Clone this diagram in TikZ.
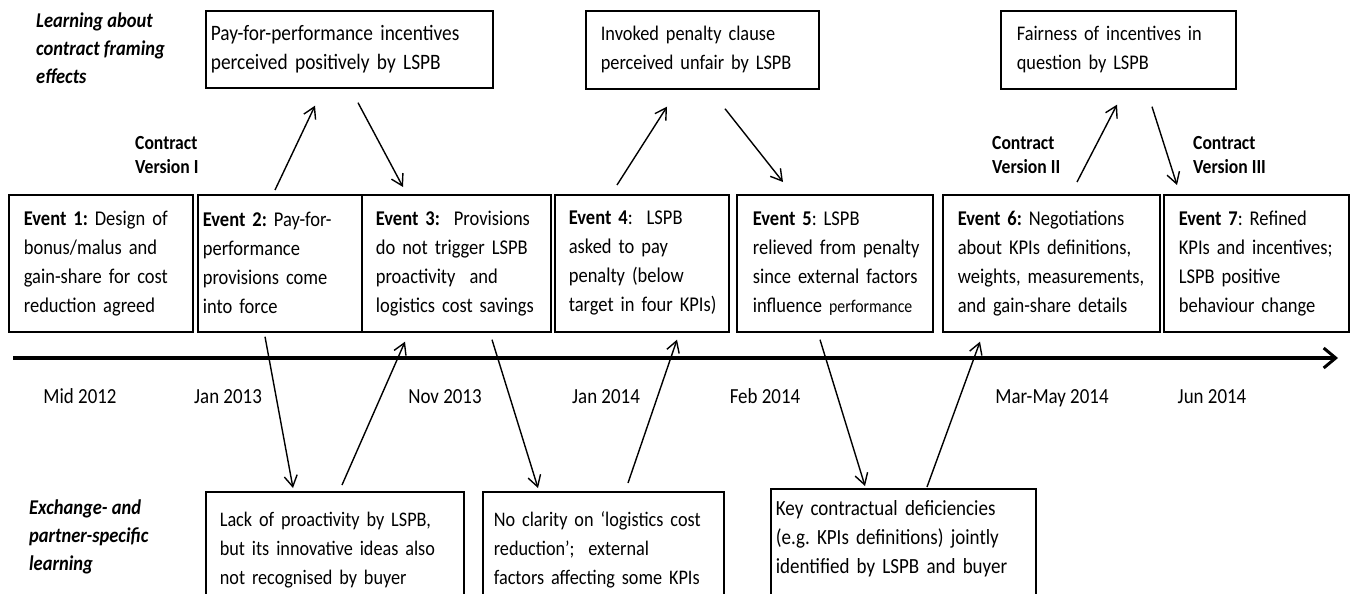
\documentclass[tikz,border=0pt]{standalone}
\usepackage{fontspec}
\setmainfont{Carlito}[FakeStretch=0.88]
\usetikzlibrary{arrows.meta}
\newcommand\oneln[1]{\mbox{#1}}
\tikzset{
  box/.style={draw, line width=1.7pt, anchor=north west, align=left,
    inner ysep=0pt, font=\fontsize{21}{29}\selectfont\frenchspacing},
  fs/.style={font=\fontsize{#1}{29}\selectfont\frenchspacing},
  arr/.style={line width=1.4pt, -{Straight Barb[length=11pt,width=13pt,line width=1.4pt]}},
  lbl/.style={anchor=north west, align=left, inner sep=0pt,
    font=\fontsize{21}{28}\selectfont\bfseries\itshape},
  ctr/.style={anchor=north west, align=left, inner sep=0pt,
    font=\fontsize{20}{24}\selectfont\bfseries},
  dt/.style={anchor=base, inner sep=0pt, font=\fontsize{21.5}{26}\selectfont},
}
\begin{document}
\begin{tikzpicture}[x=1pt,y=-1pt]
\useasboundingbox (0,0) rectangle (1357,594);
\clip (0,0) rectangle (1357,594);
% event boxes
\node[box, text width=154pt, inner xsep=15pt, minimum height=137pt] (e1) at (8,194)
  {\oneln{\textbf{Event 1:} Design of}\\\oneln{bonus/malus and}\\\oneln{gain-share for cost}\\\oneln{reduction agreed}};
\node[box, text width=154pt, inner xsep=5pt, minimum height=137pt] (e2) at (197,194)
  {\oneln{\textbf{Event 2:} Pay-for-}\\\oneln{performance}\\\oneln{provisions come}\\\oneln{into force}};
\node[box, text width=161pt, inner xsep=14pt, minimum height=137pt] (e3) at (361,194)
  {\oneln{\textbf{Event 3:}\ \ Provisions}\\\oneln{do not trigger LSPB}\\\oneln{proactivity\ \ and}\\\oneln{logistics cost savings}};
\node[box, text width=146pt, inner xsep=14pt, minimum height=137pt] (e4) at (554,194)
  {\oneln{\textbf{Event 4}:\ \ LSPB}\\\oneln{asked to pay}\\\oneln{penalty (below}\\\oneln{target in four KPIs)}};
\node[box, text width=164pt, inner xsep=16pt, minimum height=137pt] (e5) at (736,194)
  {\oneln{\textbf{Event 5}: LSPB}\\\oneln{relieved from penalty}\\\oneln{since external factors}\\\oneln{influence {\fontsize{18}{29}\selectfont performance}}};
\node[box, text width=187pt, inner xsep=15pt, minimum height=137pt] (e6) at (942,194)
  {\oneln{\textbf{Event 6:} Negotiations}\\\oneln{about KPIs definitions,}\\\oneln{weights, measurements,}\\\oneln{and gain-share details}};
\node[box, text width=155pt, inner xsep=15pt, minimum height=137pt] (e7) at (1163,194)
  {\oneln{\textbf{Event 7}: Refined}\\\oneln{KPIs and incentives;}\\\oneln{LSPB positive}\\\oneln{behaviour change}};
% top boxes
\node[box, fs=22, text width=277pt, inner xsep=5pt, minimum height=77pt] (t1) at (205,10)
  {\oneln{Pay-for-performance incentives}\\\oneln{perceived positively by LSPB}};
\node[box, fs=20.8, text width=203pt, inner xsep=15pt, minimum height=78pt] (t2) at (585,10)
  {\oneln{Invoked penalty clause}\\\oneln{perceived unfair by LSPB}};
\node[box, fs=20.8, text width=203pt, inner xsep=16pt, minimum height=78pt] (t3) at (1000,10)
  {\oneln{Fairness of incentives in}\\\oneln{question by LSPB}};
% bottom boxes
\node[box, fs=20.7, text width=230pt, inner xsep=14pt, minimum height=116pt] (b1) at (205,491)
  {\oneln{Lack of proactivity by LSPB,}\\\oneln{but its innovative ideas also}\\\oneln{not recognised by buyer}};
\node[box, fs=20.7, text width=219pt, inner xsep=11pt, minimum height=116pt] (b2) at (482,491)
  {\oneln{No clarity on ‘logistics cost}\\\oneln{reduction’;\ \ external}\\\oneln{factors affecting some KPIs}};
\node[box, fs=21.6, text width=255pt, inner xsep=5pt, minimum height=116pt] (b3) at (770,488)
  {\oneln{Key contractual deficiencies}\\\oneln{(e.g. KPIs definitions) jointly}\\\oneln{identified by LSPB and buyer}\\[-9pt]\mbox{}};
% side labels
\node[lbl] (l1) at (36,13) {Learning about\\contract framing\\effects};
\node[lbl] (l2) at (29,500) {Exchange- and\\partner-specific\\learning};
\node[ctr] (c1) at (135,136) {Contract\\Version I};
\node[ctr] (c2) at (992,136) {Contract\\Version II};
\node[ctr] (c3) at (1193,136) {Contract\\Version III};
% timeline
\coordinate (tl0) at (13,358);
\coordinate (tl1) at (1338,358);
\draw[line width=3.2pt, -{Straight Barb[length=12pt,width=20pt,line width=3pt]}] (tl0) -- (tl1);
% dates
\node[dt] (d1) at (80,403) {Mid 2012};
\node[dt] (d2) at (228,403) {Jan 2013};
\node[dt] (d3) at (445,403) {Nov 2013};
\node[dt] (d4) at (606,403) {Jan 2014};
\node[dt] (d5) at (765,403) {Feb 2014};
\node[dt] (d6) at (1052,403) {Mar-May 2014};
\node[dt] (d7) at (1212,403) {Jun 2014};
% arrows
\draw[arr] ([shift={(78pt,4pt)}]e2.north west) -- ([shift={(110pt,-17pt)}]t1.south west);
\draw[arr] ([shift={(153pt,-14pt)}]t1.south west) -- ([shift={(42pt,7pt)}]e3.north west);
\draw[arr] ([shift={(68pt,-4pt)}]e2.south west) -- ([shift={(88pt,3pt)}]b1.north west);
\draw[arr] ([shift={(137pt,6pt)}]b1.north west) -- ([shift={(44pt,-9pt)}]e3.south west);
\draw[arr] ([shift={(131pt,-7pt)}]e3.south west) -- ([shift={(56pt,3pt)}]b2.north west);
\draw[arr] ([shift={(146pt,8pt)}]b2.north west) -- ([shift={(123pt,-7pt)}]e4.south west);
\draw[arr] ([shift={(63pt,9pt)}]e4.north west) -- ([shift={(82pt,-17pt)}]t2.south west);
\draw[arr] ([shift={(140pt,-19pt)}]t2.south west) -- ([shift={(47pt,12pt)}]e5.north west);
\draw[arr] ([shift={(84pt,-7pt)}]e5.south west) -- ([shift={(95pt,2pt)}]b3.north west);
\draw[arr] ([shift={(157pt,1pt)}]b3.north west) -- ([shift={(38pt,-9pt)}]e6.south west);
\draw[arr] ([shift={(135pt,12pt)}]e6.north west) -- ([shift={(117pt,-15pt)}]t3.south west);
\draw[arr] ([shift={(152pt,-17pt)}]t3.south west) -- ([shift={(14pt,9pt)}]e7.north west);
\end{tikzpicture}
\end{document}
